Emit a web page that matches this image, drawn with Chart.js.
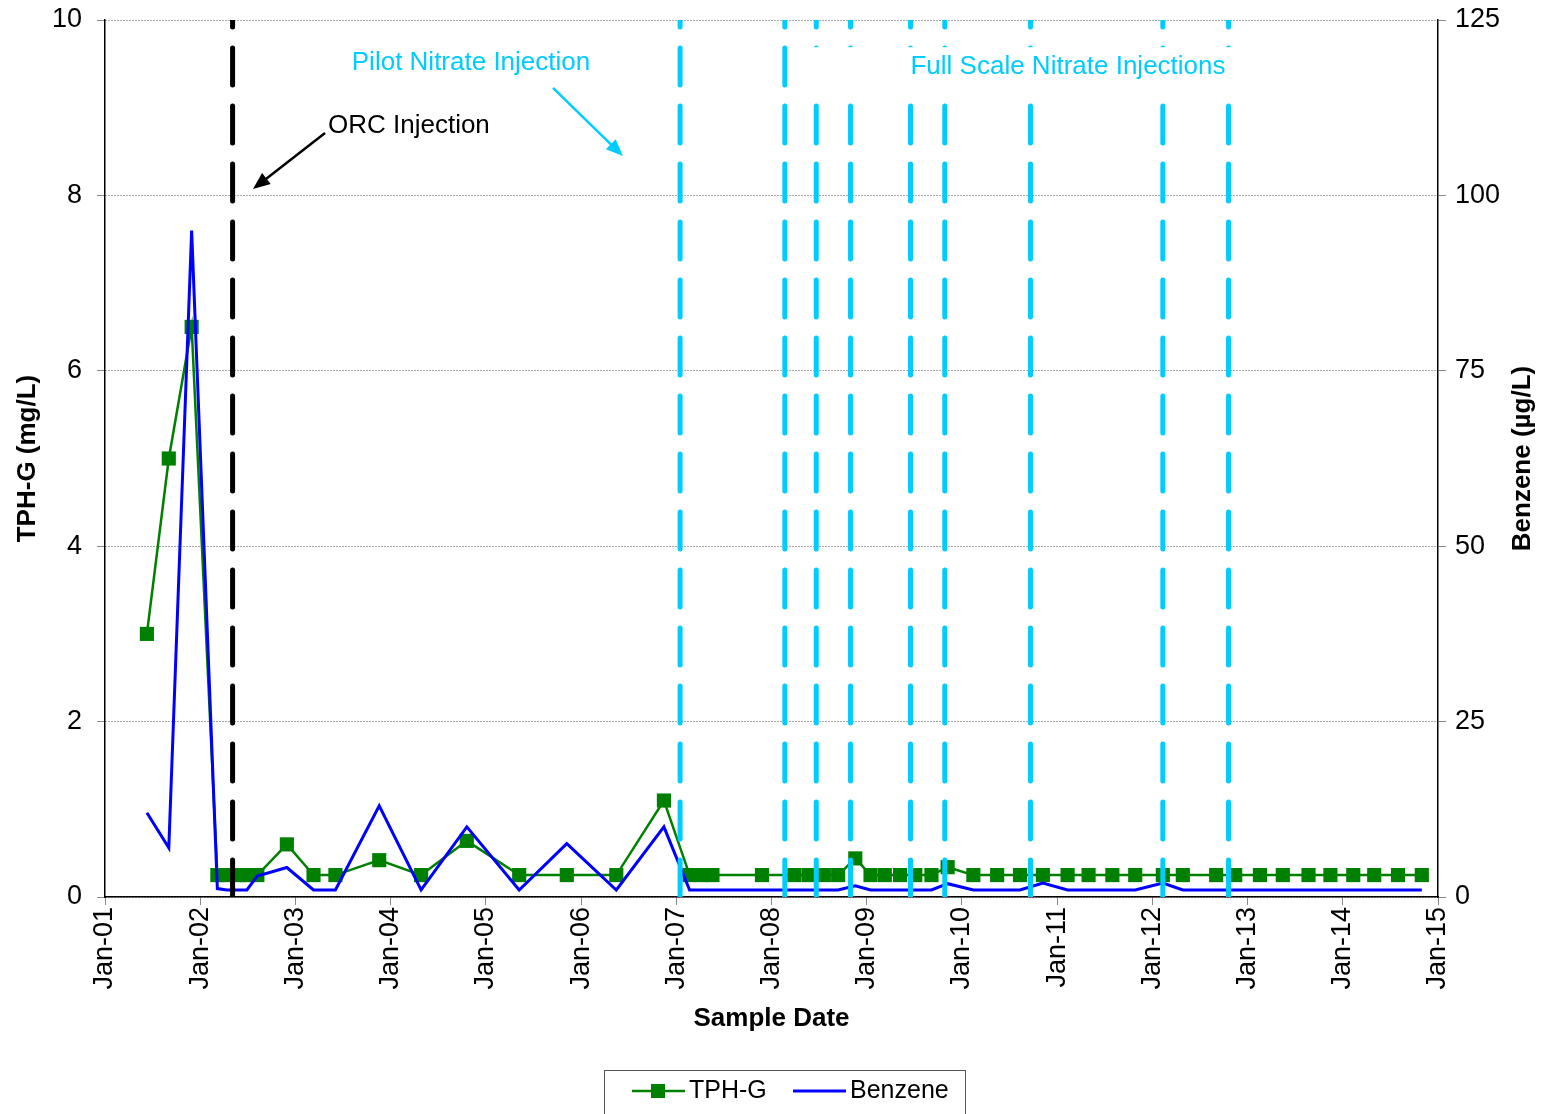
<!DOCTYPE html>
<html>
<head>
<meta charset="utf-8">
<script src="https://cdn.jsdelivr.net/npm/chart.js@4.4.1/dist/chart.umd.min.js"></script>
<style>
  html, body { margin: 0; padding: 0; background: #fff; }
</style>
</head>
<body>
<canvas id="chart" width="1545" height="1114"></canvas>
<script>
// sample dates as decimal years
const sampleDates = [
  2001.44, 2001.67, 2001.91, 2002.18, 2002.28, 2002.39, 2002.49, 2002.60, 2002.91, 2003.19,
  2003.42, 2003.88, 2004.32, 2004.80, 2005.35, 2005.85, 2006.37, 2006.87, 2007.14, 2007.26,
  2007.38, 2007.90, 2008.24, 2008.39, 2008.55, 2008.70, 2008.88, 2009.04, 2009.19, 2009.35,
  2009.51, 2009.68, 2009.85, 2010.12, 2010.37, 2010.61, 2010.85, 2011.11, 2011.33, 2011.58,
  2011.82, 2012.11, 2012.32, 2012.67, 2012.87, 2013.13, 2013.37, 2013.64, 2013.87, 2014.11,
  2014.33, 2014.58, 2014.83
];
// TPH-G, mg/L
const tphValues = [
  3.0, 5.0, 6.5, 0.25, 0.25, 0.25, 0.25, 0.25, 0.6, 0.25,
  0.25, 0.42, 0.25, 0.64, 0.25, 0.25, 0.25, 1.1, 0.25, 0.25,
  0.25, 0.25, 0.25, 0.25, 0.25, 0.25, 0.44, 0.25, 0.25, 0.25,
  0.25, 0.25, 0.34, 0.25, 0.25, 0.25, 0.25, 0.25, 0.25, 0.25,
  0.25, 0.25, 0.25, 0.25, 0.25, 0.25, 0.25, 0.25, 0.25, 0.25,
  0.25, 0.25, 0.25
];
// Benzene, ug/L
const benzeneValues = [
  12, 7, 95, 1.2, 1, 1, 1, 3, 4.2, 1,
  1, 13, 1, 10, 1, 7.6, 1, 10, 1, 1,
  1, 1, 1, 1, 1, 1, 1.6, 1, 1, 1,
  1, 1, 1.9, 1, 1, 1, 2, 1, 1, 1,
  1, 2, 1, 1, 1, 1, 1, 1, 1, 1,
  1, 1, 1
];
const orcInjection = [2002.34];
const nitrateInjections = [2007.04, 2008.14, 2008.47, 2008.83, 2009.46, 2009.82, 2010.72, 2012.11, 2012.80];
const yearLabels = ['Jan-01', 'Jan-02', 'Jan-03', 'Jan-04', 'Jan-05', 'Jan-06', 'Jan-07', 'Jan-08',
  'Jan-09', 'Jan-10', 'Jan-11', 'Jan-12', 'Jan-13', 'Jan-14', 'Jan-15'];

const FONT = "'Liberation Sans', Arial, sans-serif";
const CYAN = '#00CCFF';
Chart.defaults.font.family = FONT;
Chart.defaults.color = '#000';

function injectionLine(date, color) {
  return {
    label: 'injection',
    data: [{ x: date, y: 0 }, { x: date, y: 10 }],
    borderColor: color,
    borderWidth: 5,
    borderDash: [37, 21],
    borderCapStyle: 'round',
    pointRadius: 0,
    yAxisID: 'y',
    order: 0
  };
}

function arrow(ctx, x1, y1, x2, y2, color) {
  const a = Math.atan2(y2 - y1, x2 - x1);
  const head = 17, half = 7;
  ctx.save();
  ctx.strokeStyle = color;
  ctx.fillStyle = color;
  ctx.lineWidth = 2.5;
  ctx.beginPath();
  ctx.moveTo(x1, y1);
  ctx.lineTo(x2 - head * 0.8 * Math.cos(a), y2 - head * 0.8 * Math.sin(a));
  ctx.stroke();
  ctx.beginPath();
  ctx.moveTo(x2, y2);
  ctx.lineTo(x2 - head * Math.cos(a) + half * Math.sin(a), y2 - head * Math.sin(a) - half * Math.cos(a));
  ctx.lineTo(x2 - head * Math.cos(a) - half * Math.sin(a), y2 - head * Math.sin(a) + half * Math.cos(a));
  ctx.closePath();
  ctx.fill();
  ctx.restore();
}

// keep the tick label overhang from pushing the plot area down
function fixWidth(w) {
  return (scale) => {
    scale.width = w;
    scale.paddingTop = 8;
    scale.paddingBottom = 8;
  };
}

// text labels, arrows, right axis title and legend box
const notes = {
  id: 'notes',
  afterDatasetsDraw(chart) {
    const { ctx, scales: { x, y } } = chart;
    const px = (v) => x.getPixelForValue(v);
    const py = (v) => y.getPixelForValue(v);
    ctx.save();
    // white box behind the full scale label
    ctx.fillStyle = '#fff';
    ctx.fillRect(px(2008.30), py(9.69), px(2012.92) - px(2008.30), py(9.18) - py(9.69));

    ctx.font = '26px ' + FONT;
    ctx.textBaseline = 'middle';
    ctx.fillStyle = CYAN;
    ctx.textAlign = 'center';
    ctx.fillText('Pilot Nitrate Injection', px(2004.844), py(9.51));
    ctx.fillText('Full Scale Nitrate Injections', px(2011.114), py(9.464));
    ctx.fillStyle = '#000';
    ctx.textAlign = 'left';
    ctx.fillText('ORC Injection', px(2003.342), py(8.79));

    arrow(ctx, px(2003.311), py(8.711), px(2002.554), py(8.073), '#000');
    arrow(ctx, px(2005.705), py(9.225), px(2006.44), py(8.449), CYAN);
    ctx.restore();
  },
  afterDraw(chart) {
    const { ctx, chartArea } = chart;
    ctx.save();
    // right axis title, reading upward like the left one
    ctx.translate(chart.width - 22, (chartArea.top + chartArea.bottom) / 2);
    ctx.rotate(-Math.PI / 2);
    ctx.font = 'bold 26px ' + FONT;
    ctx.fillStyle = '#000';
    ctx.textAlign = 'center';
    ctx.textBaseline = 'middle';
    ctx.fillText('Benzene (\u00B5g/L)', 0, 0);
    ctx.restore();

    // legend
    ctx.save();
    const ly = 1091;
    ctx.strokeStyle = '#555';
    ctx.lineWidth = 1;
    ctx.strokeRect(604.5, 1070.5, 361, 60);
    ctx.lineWidth = 2.5;
    ctx.strokeStyle = '#008000';
    ctx.beginPath(); ctx.moveTo(632, ly); ctx.lineTo(685, ly); ctx.stroke();
    ctx.fillStyle = '#008000';
    ctx.fillRect(651, ly - 7, 14, 14);
    ctx.strokeStyle = '#0000FF';
    ctx.lineWidth = 3;
    ctx.beginPath(); ctx.moveTo(793, ly); ctx.lineTo(846, ly); ctx.stroke();
    ctx.font = '25px ' + FONT;
    ctx.fillStyle = '#000';
    ctx.textBaseline = 'middle';
    ctx.textAlign = 'left';
    ctx.fillText('TPH-G', 689, ly);
    ctx.fillText('Benzene', 850, ly);
    ctx.restore();
  }
};

const datasets = [];
orcInjection.forEach((d) => datasets.push(injectionLine(d, '#000')));
nitrateInjections.forEach((d) => datasets.push(injectionLine(d, CYAN)));
datasets.push({
  label: 'Benzene',
  data: sampleDates.map((d, i) => ({ x: d, y: benzeneValues[i] })),
  borderColor: '#0000FF',
  borderWidth: 3,
  pointRadius: 0,
  yAxisID: 'y2',
  order: 1
});
datasets.push({
  label: 'TPH-G',
  data: sampleDates.map((d, i) => ({ x: d, y: tphValues[i] })),
  borderColor: '#008000',
  backgroundColor: '#008000',
  borderWidth: 2.5,
  pointStyle: 'rect',
  pointRadius: 10,
  pointBorderWidth: 0,
  yAxisID: 'y',
  order: 2
});

new Chart(document.getElementById('chart'), {
  type: 'line',
  data: { datasets: datasets },
  plugins: [notes],
  options: {
    responsive: false,
    animation: false,
    layout: { padding: { top: 20, bottom: 71, left: 0, right: 0 } },
    plugins: { legend: { display: false }, tooltip: { enabled: false } },
    scales: {
      x: {
        type: 'linear',
        min: 2001,
        max: 2015,
        afterFit: (scale) => { scale.height = 146; },
        border: { color: '#000', width: 1.5 },
        grid: { drawOnChartArea: false, tickLength: 8, color: '#888' },
        ticks: {
          stepSize: 1,
          autoSkip: false,
          minRotation: 90,
          maxRotation: 90,
          padding: 2,
          font: { size: 27 },
          callback: (v) => yearLabels[Math.round(v) - 2001]
        },
        title: {
          display: true,
          text: 'Sample Date',
          font: { size: 26, weight: 'bold' },
          padding: { top: 9, bottom: 9 }
        }
      },
      y: {
        position: 'left',
        min: 0,
        max: 10,
        afterFit: fixWidth(105),
        border: { color: '#000', width: 1.5, dash: [1, 2] },
        grid: { color: '#555', tickLength: 8, tickColor: '#888', tickBorderDash: [] },
        ticks: { stepSize: 2, padding: 15, font: { size: 27 } },
        title: {
          display: true,
          text: 'TPH-G (mg/L)',
          font: { size: 26, weight: 'bold' },
          padding: { top: 12, bottom: 12 }
        }
      },
      y2: {
        position: 'right',
        min: 0,
        max: 125,
        afterFit: fixWidth(107),
        border: { color: '#000', width: 1.5 },
        grid: { drawOnChartArea: false, tickLength: 8, color: '#888' },
        ticks: { stepSize: 25, padding: 9, font: { size: 27 } }
      }
    }
  }
});
</script>
</body>
</html>
